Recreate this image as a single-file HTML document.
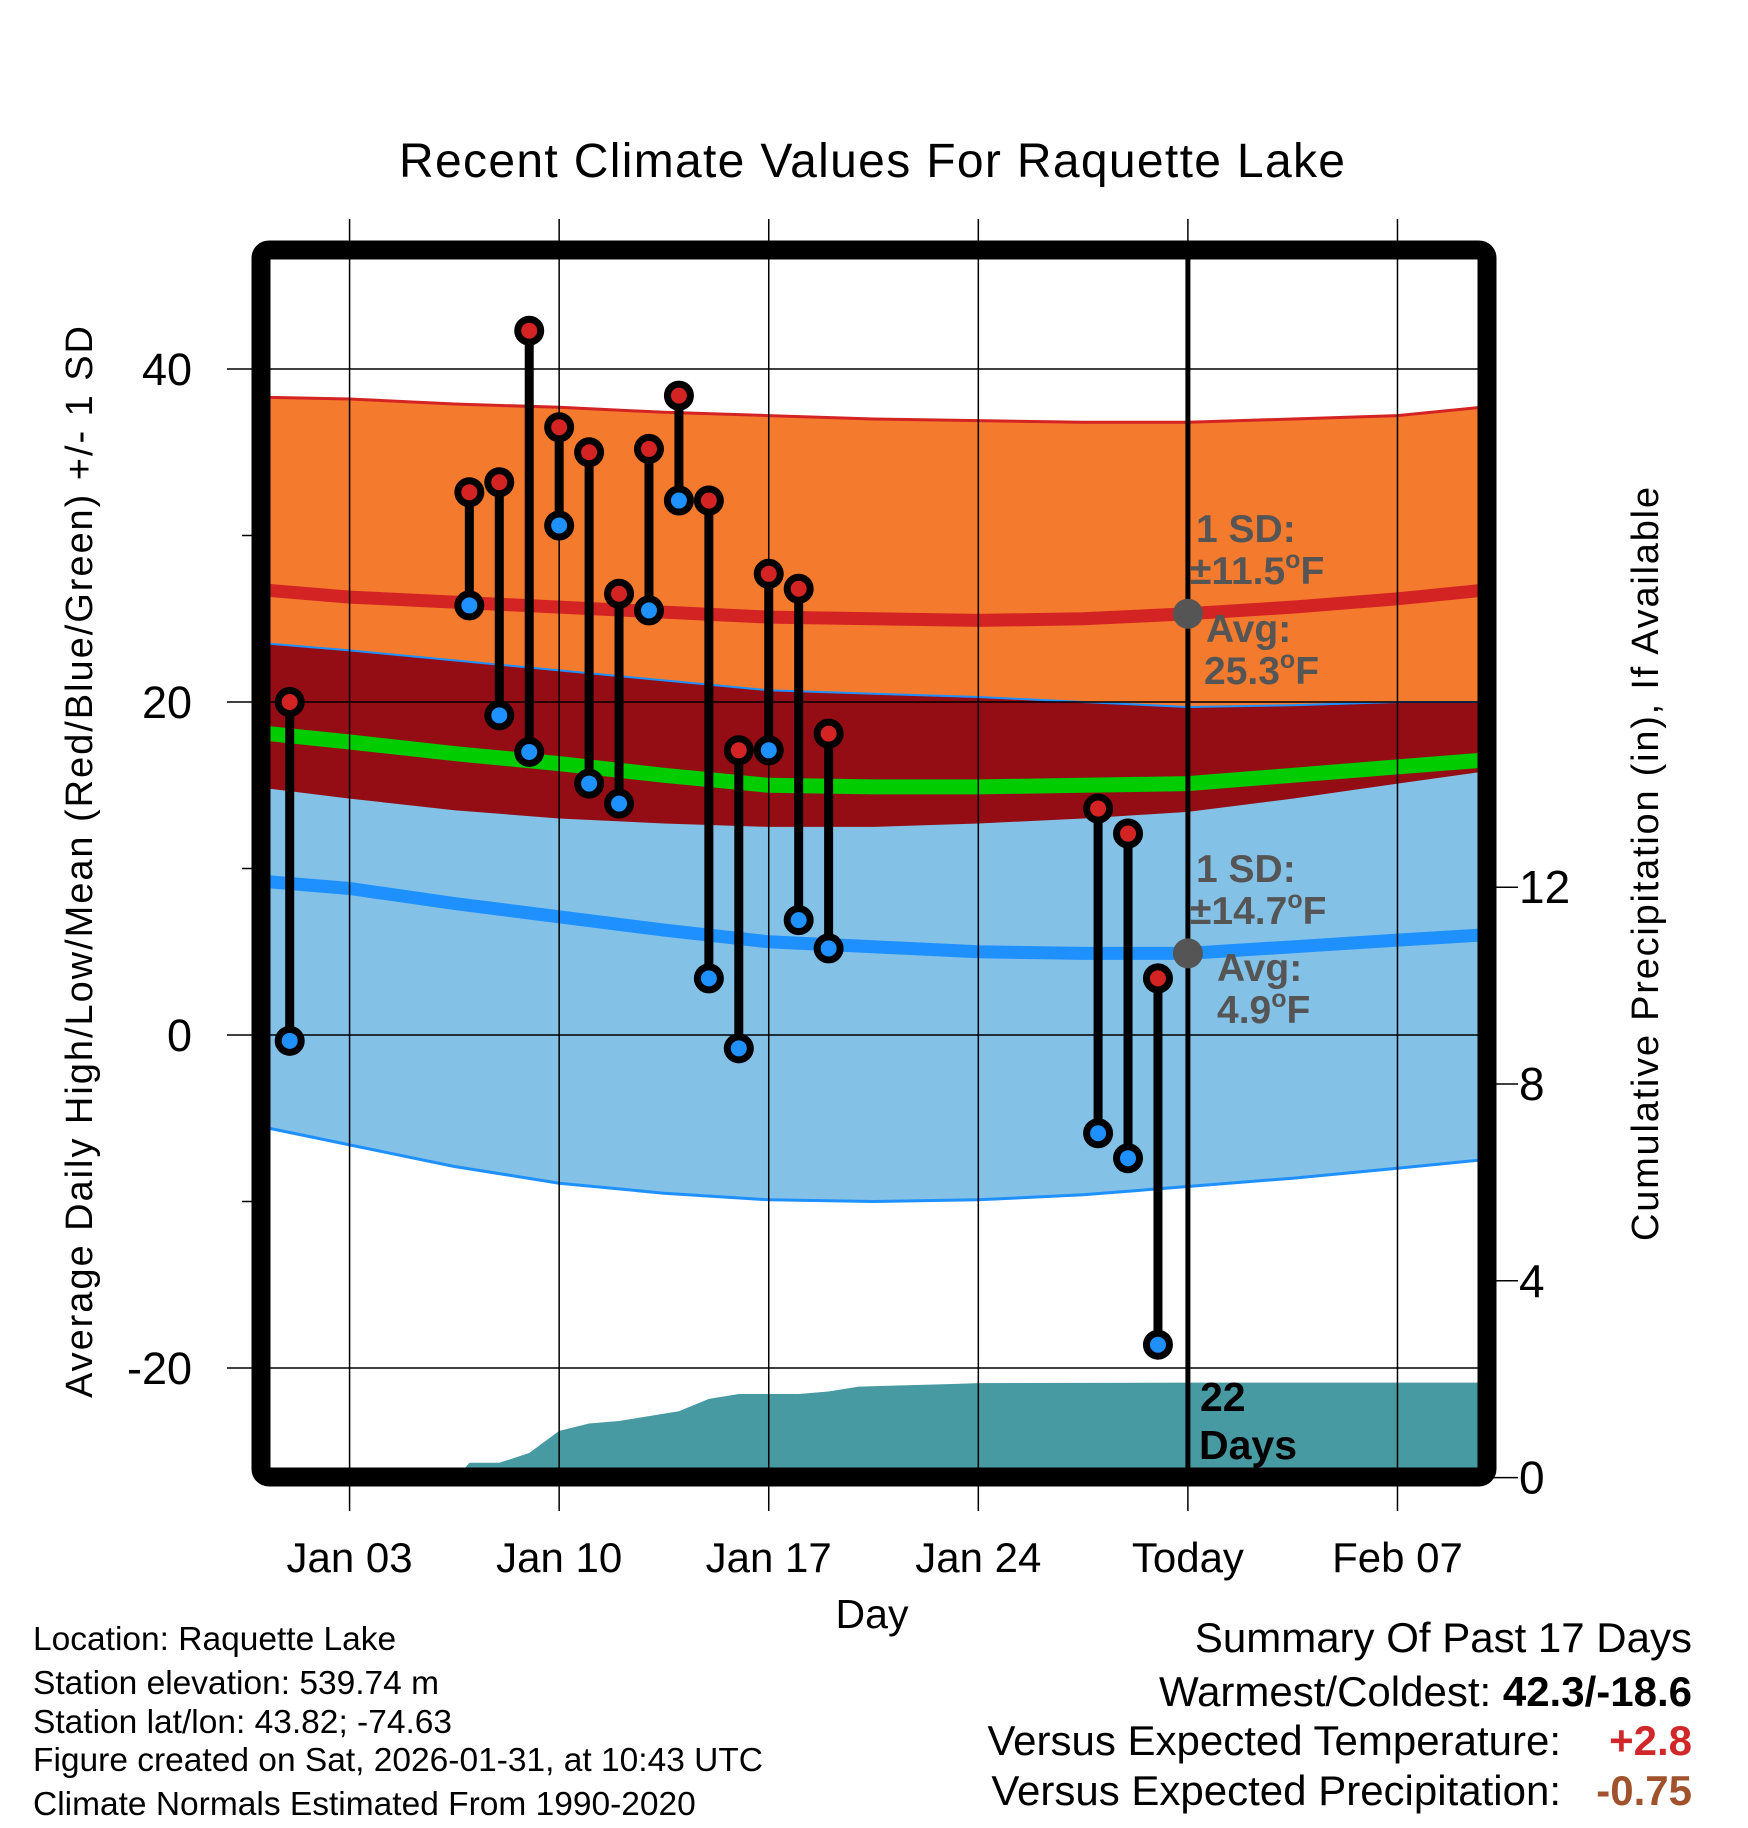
<!DOCTYPE html>
<html><head><meta charset="utf-8"><style>
html,body{margin:0;padding:0;background:#fff}
svg{display:block}
text{font-family:"Liberation Sans",Arial,sans-serif}
</style></head><body>
<svg id="chart" xmlns="http://www.w3.org/2000/svg" width="1748" height="1828" viewBox="0 0 1748 1828">
<defs><clipPath id="plotclip"><rect x="270" y="259" width="1208" height="1209"/></clipPath></defs>
<g id="bands" clip-path="url(#plotclip)"></g>
<g id="grid"></g>
<g id="marks"></g>
<g id="axes"></g>
<text x="872" y="177" font-size="48" text-anchor="middle" textLength="946">Recent Climate Values For Raquette Lake</text>
<text x="872" y="1628" font-size="41" text-anchor="middle">Day</text>
<text transform="translate(92,862) rotate(-90)" font-size="38" text-anchor="middle" textLength="1072">Average Daily High/Low/Mean (Red/Blue/Green) +/- 1 SD</text>
<text transform="translate(1658,864) rotate(-90)" font-size="38" text-anchor="middle" textLength="754">Cumulative Precipitation (in), If Available</text>
<g font-size="39" font-weight="bold" fill="#555">
<text x="1196" y="542">1 SD:</text>
<text x="1190" y="584">±11.5<tspan font-size="25" dy="-16">o</tspan><tspan dy="16">F</tspan></text>
<text x="1206" y="642">Avg:</text>
<text x="1204" y="684">25.3<tspan font-size="25" dy="-16">o</tspan><tspan dy="16">F</tspan></text>
</g>
<g font-size="39" font-weight="bold" fill="#555">
<text x="1196" y="882">1 SD:</text>
<text x="1190" y="924">±14.7<tspan font-size="25" dy="-16">o</tspan><tspan dy="16">F</tspan></text>
<text x="1217" y="981">Avg:</text>
<text x="1217" y="1023">4.9<tspan font-size="25" dy="-16">o</tspan><tspan dy="16">F</tspan></text>
</g>
<g font-size="41" font-weight="bold" fill="#000">
<text x="1200" y="1411">22</text><text x="1199" y="1459">Days</text>
</g>
<g font-size="33.5" fill="#000">
<text x="33" y="1650">Location: Raquette Lake</text>
<text x="33" y="1694">Station elevation: 539.74 m</text>
<text x="33" y="1733">Station lat/lon: 43.82; -74.63</text>
<text x="33" y="1771">Figure created on Sat, 2026-01-31, at 10:43 UTC</text>
<text x="33" y="1815">Climate Normals Estimated From 1990-2020</text>
</g>
<g font-size="42" fill="#000">
<text x="1692" y="1652" text-anchor="end">Summary Of Past 17 Days</text>
<text x="1692" y="1706" text-anchor="end">Warmest/Coldest: <tspan font-weight="bold">42.3/-18.6</tspan></text>
<text x="1561" y="1755" text-anchor="end">Versus Expected Temperature:</text>
<text x="1692" y="1755" text-anchor="end" font-weight="bold" fill="#d0282a">+2.8</text>
<text x="1561" y="1805" text-anchor="end">Versus Expected Precipitation:</text>
<text x="1692" y="1805" text-anchor="end" font-weight="bold" fill="#a0522d">-0.75</text>
</g>
</svg>
<script>
// normals
const normDays   = [0.3, 3, 6.5, 10, 13.5, 17, 20.5, 24, 27.5, 31, 34.5, 38, 40.8];
const highUpper  = [38.3, 38.2, 37.9, 37.7, 37.4, 37.2, 37.0, 36.9, 36.8, 36.8, 37.0, 37.2, 37.7];
const highMean   = [26.7, 26.3, 26.0, 25.7, 25.4, 25.1, 25.0, 24.9, 25.0, 25.3, 25.7, 26.2, 26.7];
const highLower  = [14.8, 14.2, 13.5, 13.0, 12.7, 12.5, 12.5, 12.7, 13.0, 13.4, 14.2, 15.1, 15.8];
const lowUpper   = [23.5, 23.1, 22.5, 21.9, 21.3, 20.7, 20.5, 20.3, 20.0, 19.7, 19.8, 20.0, 20.0];
const lowMean    = [9.2, 8.8, 7.9, 7.1, 6.3, 5.6, 5.3, 5.0, 4.9, 4.9, 5.3, 5.7, 6.0];
const lowLower   = [-5.6, -6.6, -7.9, -8.9, -9.5, -9.9, -10.0, -9.9, -9.6, -9.1, -8.6, -8.0, -7.5];
const avgMean    = [18.1, 17.6, 16.9, 16.3, 15.6, 15.0, 14.9, 14.9, 15.0, 15.1, 15.6, 16.1, 16.5];
// observations
const obsDays  = [1, 7, 8, 9, 10, 11, 12, 13, 14, 15, 16, 17, 18, 19, 28, 29, 30];
const obsHigh  = [20.0, 32.6, 33.2, 42.3, 36.5, 35.0, 26.5, 35.2, 38.4, 32.1, 17.1, 27.7, 26.8, 18.1, 13.6, 12.1, 3.4];
const obsLow   = [-0.35, 25.8, 19.2, 17.0, 30.6, 15.1, 13.9, 25.5, 32.1, 3.4, -0.8, 17.1, 6.9, 5.2, -5.9, -7.4, -18.6];
// cumulative precipitation
const precDays = [0.3, 6.6, 7, 8, 9, 10, 11, 12, 13, 14, 15, 16, 17, 18, 19, 20, 23, 24, 31, 40.8];
const precVals = [0, 0, 0.3, 0.3, 0.5, 0.95, 1.1, 1.15, 1.25, 1.35, 1.6, 1.7, 1.7, 1.7, 1.75, 1.85, 1.9, 1.92, 1.93, 1.93];
const xTickDays   = [3, 10, 17, 24, 31, 38];
const xTickLabels = ["Jan 03", "Jan 10", "Jan 17", "Jan 24", "Today", "Feb 07"];
const yTicks      = [40, 20, 0, -20];
const yMinor      = [30, 10, -10];
const pTicks      = [0, 4, 8, 12];
const todayDay = 31;

const NS = "http://www.w3.org/2000/svg";
const X = d => 289.7 + 29.94 * (d - 1);
const Y = v => 1035 - 16.65 * v;
const P = p => 1477.6 - 49.2 * p;
function mk(tag, attrs, parent) {
  const e = document.createElementNS(NS, tag);
  for (const k in attrs) e.setAttribute(k, attrs[k]);
  parent.appendChild(e); return e;
}
function pts(ds, vs, f) { return ds.map((d, i) => X(d).toFixed(1) + "," + f(vs[i]).toFixed(1)); }
function band(up, lo) {
  return pts(normDays, up, Y).concat(pts(normDays, lo, Y).reverse()).join(" ");
}
const bands = document.getElementById("bands");
let e;
e = mk("polygon", {points: band(highUpper, highLower), fill: "#f47a2e"}, bands);


e = mk("polygon", {points: band(lowUpper, lowLower), fill: "#83c1e7"}, bands);


e = mk("polygon", {points: band(lowUpper, highLower), fill: "#940d14"}, bands);


e = mk("polyline", {points: pts(normDays, highUpper, Y).join(" "), fill: "none", stroke: "#d42323", "stroke-width": 3}, bands);


e = mk("polyline", {points: pts(normDays, lowUpper, Y).join(" "), fill: "none", stroke: "#1e90ff", "stroke-width": 2}, bands);


e = mk("polyline", {points: pts(normDays, lowLower, Y).join(" "), fill: "none", stroke: "#1e90ff", "stroke-width": 3}, bands);


e = mk("polyline", {points: pts(normDays, highMean, Y).join(" "), fill: "none", stroke: "#d42323", "stroke-width": 13}, bands);


e = mk("polyline", {points: pts(normDays, lowMean, Y).join(" "), fill: "none", stroke: "#1e90ff", "stroke-width": 13}, bands);


e = mk("polyline", {points: pts(normDays, avgMean, Y).join(" "), fill: "none", stroke: "#00cc00", "stroke-width": 15}, bands);


const pp = pts(precDays, precVals, P);
pp.push(X(precDays[precDays.length-1]).toFixed(1) + "," + P(0), X(precDays[0]).toFixed(1) + "," + P(0));
e = mk("polygon", {points: pp.join(" "), fill: "#4799a2"}, bands);



const grid = document.getElementById("grid");
xTickDays.forEach((d, i) => {
  const g = mk("line", {x1: X(d), x2: X(d), y1: 219, y2: 1511, stroke: "#000", "stroke-width": 1.5}, grid);
  
  
  const t = mk("text", {x: X(d), y: 1572, "font-size": 42, "text-anchor": "middle"}, grid);
  t.textContent = xTickLabels[i];
  
  
});
yTicks.forEach(v => {
  const g = mk("line", {x1: 227, x2: 1478, y1: Y(v), y2: Y(v), stroke: "#000", "stroke-width": 1.5}, grid);
  
  
  const t = mk("text", {x: 192, y: Y(v) + 16, "font-size": 45, "text-anchor": "end"}, grid);
  t.textContent = String(v);
  
  
});
yMinor.forEach(v => {
  const g = mk("line", {x1: 242, x2: 256, y1: Y(v), y2: Y(v), stroke: "#000", "stroke-width": 1.5}, grid);
  
  
});
pTicks.forEach(p => {
  const g = mk("line", {x1: 1490, x2: 1518, y1: P(p), y2: P(p), stroke: "#000", "stroke-width": 1.5}, grid);
  
  
  const t = mk("text", {x: 1519, y: P(p) + 16, "font-size": 46}, grid);
  t.textContent = String(p);
  
  
});

const marks = document.getElementById("marks");
obsDays.forEach((d, i) => {
  const x = X(d), yh = Y(obsHigh[i]), yl = Y(obsLow[i]);
  const s = mk("line", {x1: x, x2: x, y1: yh, y2: yl, stroke: "#000", "stroke-width": 9}, marks);
  
  
  const h = mk("circle", {cx: x, cy: yh, r: 11.5, fill: "#d42323", stroke: "#000", "stroke-width": 7}, marks);
  
  
  const l = mk("circle", {cx: x, cy: yl, r: 11.5, fill: "#1e90ff", stroke: "#000", "stroke-width": 7}, marks);
  
  
});

const axes = document.getElementById("axes");
e = mk("line", {x1: X(todayDay), x2: X(todayDay), y1: 259, y2: 1468, stroke: "#000", "stroke-width": 5}, axes);


e = mk("circle", {cx: X(todayDay), cy: Y(highMean[9]), r: 15, fill: "#555"}, axes);


e = mk("circle", {cx: X(todayDay), cy: Y(lowMean[9]), r: 15, fill: "#555"}, axes);


e = mk("rect", {x: 261, y: 250, width: 1226, height: 1227, rx: 8, fill: "none", stroke: "#000", "stroke-width": 19}, axes);


</script>
</body></html>
